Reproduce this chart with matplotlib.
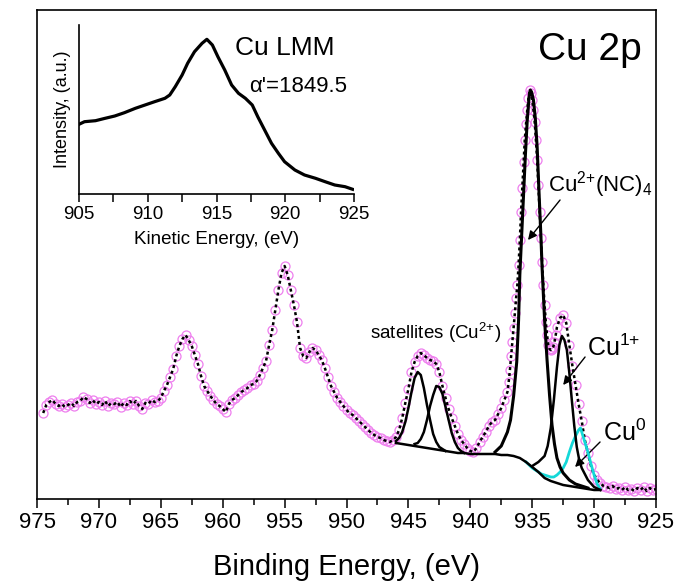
import numpy as np
import matplotlib
matplotlib.use('Agg')
import matplotlib.pyplot as plt
from matplotlib.ticker import MultipleLocator

plt.rcParams['font.family'] = ['Liberation Sans', 'DejaVu Sans']
plt.rcParams['mathtext.fontset'] = 'custom'
plt.rcParams['mathtext.rm'] = 'Liberation Sans'
plt.rcParams['mathtext.it'] = 'Liberation Sans:italic'
plt.rcParams['mathtext.default'] = 'regular'

# ---- Cu 2p raw spectrum (binding energy grid in three pieces, finer across the main line)
be_wide = np.arange(974.5, 937.0, -0.25)            # 974.5 ... 937.25
cps_wide = [86, 94, 97, 99, 95, 93, 95, 92,
            94, 96, 93, 97, 98, 102, 100, 96,
            99, 95, 97, 94, 98, 93, 96, 95,
            97, 92, 96, 94, 98, 95, 98, 93,
            90, 96, 95, 99, 97, 98, 101, 108,
            114, 122, 130, 143, 153, 160, 164, 159,
            153, 144, 135, 123, 113, 108, 103, 99,
            95, 93, 90, 87, 95, 99, 101, 104,
            107, 109, 111, 114, 115, 118, 124, 131,
            138, 154, 169, 189, 209, 226, 233, 224,
            209, 194, 177, 151, 143, 141, 147, 151,
            149, 144, 139, 131, 122, 113, 107, 101,
            97, 93, 89, 86, 84, 81, 78, 75,
            72, 69, 66, 64, 62, 61, 59, 58,
            57, 59, 62, 69, 81, 96, 110, 127,
            137, 143, 146, 144, 141, 139, 138, 135,
            127, 113, 101, 90, 81, 73, 65, 59,
            55, 51, 48, 47, 51, 57, 62, 67,
            73, 77, 79, 85, 91, 99]
be_peak = np.round(937.0 - 0.1 * np.arange(40), 2)  # 937.0 ... 933.1
cps_peak = [107, 117, 129, 143, 157, 171, 186, 201, 214, 234,
            259, 287, 311, 337, 359, 375, 389, 401, 409, 406,
            399, 389, 377, 359, 339, 314, 287, 261, 237, 214,
            194, 177, 164, 154, 150, 149, 150, 152, 157, 164]
be_tail = np.arange(933.0, 924.9, -0.25)            # 933.0 ... 925.0
cps_tail = [172, 181, 184, 176, 154, 133, 114, 95, 78, 59, 46,
            33, 24, 19, 16, 13, 12, 11, 13, 10, 11, 9,
            12, 9, 10, 8, 11, 9, 12, 8, 11, 9, 10]

be = np.concatenate([be_wide, be_peak, be_tail])
cps = np.concatenate([cps_wide, cps_peak, cps_tail])

# ---- fitted components
bg_be = np.arange(946.0, 929.4, -0.5)
bg_cps = [56, 55, 54, 53, 52, 51, 50, 49, 48, 47, 46, 46, 45, 45, 45, 45, 45,
          44, 44, 43, 41, 37, 32, 27, 21, 18, 16, 14, 13, 12, 11, 10, 9, 9]

sat1_be = np.arange(946.0, 941.9, -0.25)
sat1_cps = [58, 61, 67, 77, 91, 107, 121, 127, 124, 111, 94, 79, 65, 57, 52, 50, 48]
sat2_be = np.arange(944.5, 940.4, -0.25)
sat2_cps = [55, 56, 60, 67, 79, 93, 104, 113, 112, 105, 92, 79, 66, 57, 51, 48, 46]

cu2_be = [938.0, 937.5, 937.0, 936.75, 936.5, 936.25, 936.1, 936.0, 935.85, 935.7,
          935.55, 935.4, 935.25, 935.15, 935.05, 934.9, 934.75, 934.6, 934.45, 934.3,
          934.2, 934.0, 933.8, 933.6, 933.4, 933.2, 933.0, 932.75, 932.5, 932.0,
          931.5, 931.0, 930.5]
cu2_cps = [47, 53, 67, 79, 103, 137, 179, 224, 264, 304,
           344, 379, 402, 409, 407, 399, 381, 352, 307, 264,
           231, 179, 139, 104, 74, 55, 41, 32, 26, 19,
           15, 13, 11]

cu1_be = [935.0, 934.5, 934.0, 933.75, 933.5, 933.25, 933.0, 932.8, 932.6, 932.4,
          932.2, 932.0, 931.8, 931.6, 931.4, 931.2, 931.0, 930.5, 930.0, 929.5]
cu1_cps = [33, 37, 43, 53, 71, 99, 132, 154, 163, 159,
           149, 126, 99, 73, 52, 39, 31, 19, 12, 9]

cu0_be = [935.5, 935.25, 935.0, 934.75, 934.5, 934.25, 934.0, 933.75, 933.5, 933.25,
          933.0, 932.75, 932.5, 932.25, 932.0, 931.75, 931.5, 931.25, 931.1, 930.9,
          930.75, 930.5, 930.25, 930.0, 929.75, 929.5]
cu0_cps = [37, 34, 31, 29, 27, 25, 24, 23, 22, 22,
           24, 27, 31, 37, 47, 56, 63, 69, 71, 63,
           57, 47, 35, 24, 15, 10]

# ---- Cu LMM Auger line (inset)
ke = [905.0, 905.4, 906.2, 906.9, 907.6, 908.3, 909.1, 909.8, 910.5, 911.25,
      911.6, 912.0, 912.5, 912.9, 913.4, 913.95, 914.3, 914.7, 915.1, 915.6,
      916.1, 916.6, 917.1, 917.6, 918.0, 918.5, 919.0, 919.5, 919.95, 920.7,
      921.4, 922.2, 922.9, 923.6, 924.35, 924.9]
lmm = [69.7, 72.3, 73.3, 75.7, 78.0, 81.3, 85.7, 89.0, 92.3, 95.7,
       99.0, 107.3, 119.0, 130.7, 142.3, 150.7, 154.7, 149.0, 137.3, 124.0,
       109.0, 100.7, 95.7, 89.0, 77.3, 64.0, 50.7, 40.7, 32.3, 24.0,
       19.0, 15.7, 12.3, 9.0, 7.3, 4.7]

violet = '#ee7fee'
cyan = '#14d8d8'

fig = plt.figure(figsize=(6.8, 5.83), dpi=100)
ax = fig.add_axes([37/680, 84/583, 619/680, 489/583])

ax.plot(be, cps, ls='None', marker='o', ms=6.5, mfc='none', mec=violet, mew=0.9, zorder=2)
ax.plot(be, cps, color='k', lw=1.8, ls=(0, (1.2, 1.2)), zorder=3)

ax.plot(bg_be, bg_cps, color='k', lw=1.8, zorder=4)
ax.plot(sat1_be, sat1_cps, color='k', lw=1.8, zorder=4)
ax.plot(sat2_be, sat2_cps, color='k', lw=1.8, zorder=4)
ax.plot(cu2_be, cu2_cps, color='k', lw=2.2, zorder=4)
ax.plot(cu1_be, cu1_cps, color='k', lw=1.8, zorder=4)
ax.plot(cu0_be, cu0_cps, color=cyan, lw=2.0, zorder=3.5)

ax.set_xlim(975, 925)
ax.set_ylim(0, 489)
ax.xaxis.set_major_locator(MultipleLocator(5))
ax.xaxis.set_minor_locator(MultipleLocator(2.5))
ax.tick_params(axis='x', which='major', direction='out', length=6.5, width=1.1,
               labelsize=16, pad=3)
ax.tick_params(axis='x', which='minor', direction='out', length=4.5, width=1.1)
ax.tick_params(axis='y', which='both', left=False, labelleft=False)
for sp in ax.spines.values():
    sp.set_linewidth(1.2)
ax.set_xlabel('Binding Energy, (eV)', fontsize=21, labelpad=14)

ax.text(934.5, 439, 'Cu 2p', fontsize=28, ha='left', va='baseline')
ax.text(948.1, 166, r'satellites (Cu$^{\text{2+}}$)', fontsize=13.5, ha='left', va='center')

arrow = dict(arrowstyle='-|>', color='k', lw=1.0, mutation_scale=13, shrinkA=0, shrinkB=0)
ax.text(933.72, 314, r'Cu$^{\text{2+}}$(NC)$_4$', fontsize=16, ha='left', va='center')
ax.annotate('', xy=(935.34, 259), xytext=(932.75, 299), arrowprops=arrow)
ax.text(930.57, 151, r'Cu$^{\text{1+}}$', fontsize=18, ha='left', va='center')
ax.annotate('', xy=(932.5, 114), xytext=(930.73, 142), arrowprops=arrow)
ax.text(929.28, 66, 'Cu$^0$', fontsize=18, ha='left', va='center')
ax.annotate('', xy=(931.54, 32), xytext=(929.52, 57), arrowprops=arrow)

# inset: Auger parameter
ins = fig.add_axes([79/680, 389/583, 275/680, 169/583])
ins.patch.set_alpha(0)
ins.plot(ke, lmm, color='k', lw=2.3)
ins.set_xlim(905, 925)
ins.set_ylim(0, 169)
ins.spines['top'].set_visible(False)
ins.spines['right'].set_visible(False)
for sp in ('left', 'bottom'):
    ins.spines[sp].set_linewidth(1.2)
ins.xaxis.set_major_locator(MultipleLocator(5))
ins.xaxis.set_minor_locator(MultipleLocator(2.5))
ins.tick_params(axis='x', which='both', direction='out', length=5.5, width=1.1,
                labelsize=13.5, pad=3)
ins.set_yticks([])
ins.set_xlabel('Kinetic Energy, (eV)', fontsize=13.5, labelpad=6)
ins.set_ylabel('Intensity, (a.u.)', fontsize=13, labelpad=6)
ins.text(916.35, 139, 'Cu LMM', fontsize=19, ha='left', va='baseline')
ins.text(917.36, 102, "α'=1849.5", fontsize=16, ha='left', va='baseline')

fig.savefig('out.png', dpi=100)
